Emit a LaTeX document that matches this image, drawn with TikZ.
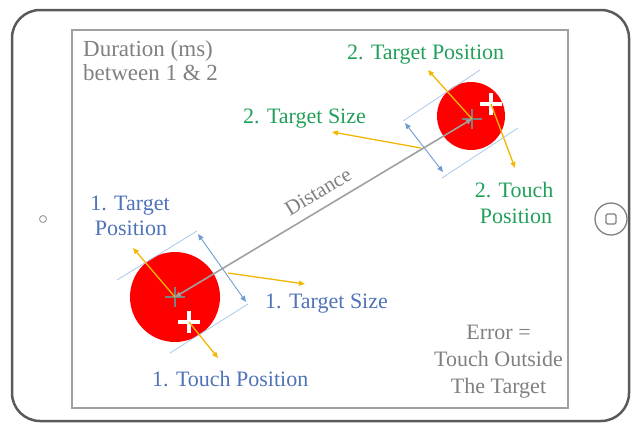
\documentclass[tikz,border=0pt]{standalone}
\usepackage{fontspec}
\setmainfont{Liberation Serif}
\usetikzlibrary{arrows.meta}
\definecolor{tgreen}{RGB}{34,160,90}
\definecolor{tblue}{RGB}{79,114,184}
\definecolor{tgray}{RGB}{128,128,128}
\definecolor{tyellow}{RGB}{242,183,5}
\definecolor{lblue}{RGB}{170,200,232}
\definecolor{ablue}{RGB}{110,155,210}
\definecolor{frame}{RGB}{90,90,90}
\definecolor{scr}{RGB}{160,160,160}
\definecolor{dline}{RGB}{160,160,160}
\tikzset{
  lbl/.style={inner sep=0pt, font=\fontsize{22}{25}\selectfont},
  lblw/.style={lbl, anchor=base west},
  lblc/.style={lbl, anchor=base},
  tan/.style={draw=lblue, line width=0.8pt},
  sizearrow/.style={draw=ablue, line width=0.9pt, {Triangle[length=6pt,width=5pt]}-{Triangle[length=6pt,width=5pt]}},
  yarrow/.style={draw=tyellow, line width=1.3pt, -{Triangle[length=6pt,width=5pt]}},
  distline/.style={draw=dline, line width=1.6pt, {Triangle[length=6pt,width=5pt]}-{Triangle[length=6pt,width=5pt]}},
  gplus/.style={draw=tgray, line width=2.4pt},
  wplus/.style={draw=white, line width=3.4pt},
}
\begin{document}
\begin{tikzpicture}[x=1pt,y=-1pt]
\useasboundingbox (0,0) rectangle (640,424);
% tablet
\draw[rounded corners=28pt, line width=2.5pt, draw=frame] (12,10) rectangle (629,421);
\draw[line width=1.2pt, draw=scr] (72,30) rectangle (568,408);
\node[draw=tgray, line width=1.3pt, circle, minimum size=32pt, inner sep=0pt] (home) at (611,219) {};
\draw[draw=tgray, line width=1.1pt, rounded corners=1.5pt] (606,214) rectangle (616,224);
\node[draw=scr, line width=1pt, circle, minimum size=7pt, inner sep=0pt] (cam) at (43,219) {};
% circles
\fill[red] (175,297) circle (45);
\fill[red] (471,116) circle (34);
% coordinates
\coordinate (c1) at (175,297);
\coordinate (c2) at (472,119);
\coordinate (w1) at (189,322);
\coordinate (w2) at (491,104);
% tangent lines circle 1
\coordinate (t1a) at (117,280); \coordinate (t1b) at (197,231);
\coordinate (t1c) at (170,353); \coordinate (t1d) at (248,304);
\draw[tan] (t1a) -- (t1b);
\draw[tan] (t1c) -- (t1d);
\coordinate (s1a) at (198,234); \coordinate (s1b) at (246,302);
\draw[sizearrow] (s1a) -- (s1b);
% tangent lines circle 2
\coordinate (t2a) at (403,121); \coordinate (t2b) at (480,70);
\coordinate (t2c) at (442,178); \coordinate (t2d) at (518,128);
\draw[tan] (t2a) -- (t2b);
\draw[tan] (t2c) -- (t2d);
\coordinate (s2a) at (405,123); \coordinate (s2b) at (443,172);
\draw[sizearrow] (s2a) -- (s2b);
% gray pluses
\draw[gplus] (c1) ++(-10,0) -- ++(20,0) (c1) ++(0,-10) -- ++(0,20);
\draw[gplus] (c2) ++(-10,0) -- ++(20,0) (c2) ++(0,-10) -- ++(0,20);
% distance
\draw[distline] (c1) -- (c2);
\node[inner sep=0pt, font=\fontsize{21}{24}\selectfont, text=tgray, rotate=31] (dist) at (318,192) {Distance};
% white pluses
\draw[wplus] (w1) ++(-11,0) -- ++(22,0) (w1) ++(0,-11) -- ++(0,22);
\draw[wplus] (w2) ++(-11,0) -- ++(22,0) (w2) ++(0,-11) -- ++(0,22);
% yellow arrows
\coordinate (y1p) at (133,248);
\coordinate (y1sa) at (228,273); \coordinate (y1sb) at (305,284);
\coordinate (y1t) at (218,358);
\coordinate (y2p) at (428,70);
\coordinate (y2sa) at (421,148); \coordinate (y2sb) at (332,132);
\coordinate (y2t) at (515,168);
\draw[yarrow] (c1) -- (y1p);
\draw[yarrow] (y1sa) -- (y1sb);
\draw[yarrow] (w1) -- (y1t);
\draw[yarrow] (c2) -- (y2p);
\draw[yarrow] (y2sa) -- (y2sb);
\draw[yarrow] (w2) -- (y2t);
% labels
\node[lblw, text=tgray, font=\fontsize{23}{25}\selectfont] (dur1) at (83,56) {Duration (ms)};
\node[lblw, text=tgray, font=\fontsize{23}{25}\selectfont] (dur2) at (83,80) {between 1 \& 2};
\node[lblw, text=tgreen] (tp2) at (347,59) {2. Target Position};
\node[lblw, text=tgreen] (ts2) at (243,123) {2. Target Size};
\node[lblc, text=tgreen] (tc2a) at (514,197) {2. Touch};
\node[lblc, text=tgreen] (tc2b) at (516,223) {Position};
\node[lblc, text=tblue] (tp1a) at (130,210) {1. Target};
\node[lblc, text=tblue] (tp1b) at (131,235) {Position};
\node[lblw, text=tblue] (ts1) at (265,308) {1. Target Size};
\node[lblw, text=tblue] (tc1) at (152,386) {1. Touch Position};
\node[lblc, text=tgray] (e1) at (498.5,339) {Error =};
\node[lblc, text=tgray] (e2) at (498.5,366) {Touch Outside};
\node[lblc, text=tgray] (e3) at (498.5,393) {The Target};
\end{tikzpicture}
\end{document}
